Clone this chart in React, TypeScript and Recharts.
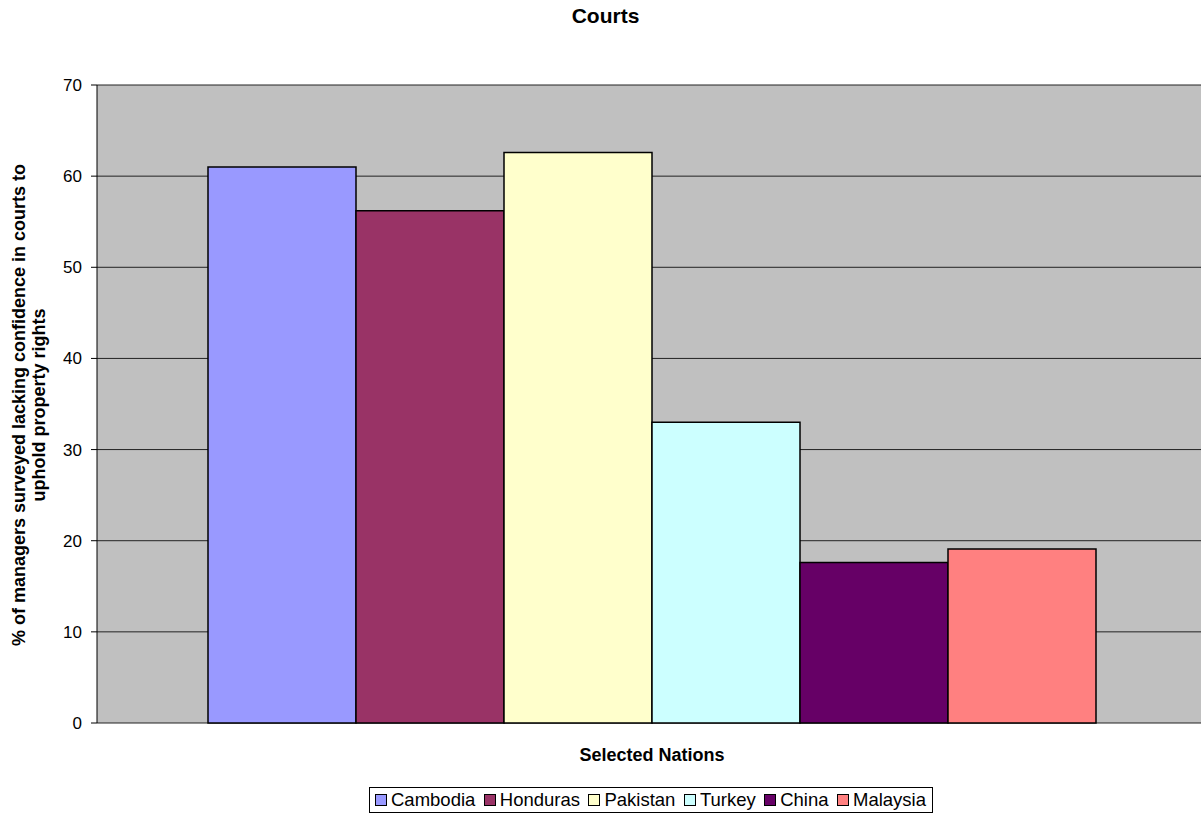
import { BarChart, Bar, XAxis, YAxis, CartesianGrid } from 'recharts';

const NATIONS = ['Cambodia', 'Honduras', 'Pakistan', 'Turkey', 'China', 'Malaysia'];
const VALUES = [61.0, 56.2, 62.6, 33.0, 17.6, 19.1];
const COLORS = ['#9999FF', '#993366', '#FFFFCC', '#CCFFFF', '#660066', '#FF8080'];
const Y_TICKS = [0, 10, 20, 30, 40, 50, 60, 70];

const FONT = '"Liberation Sans", Arial, sans-serif';

const row: Record<string, string | number> = { name: 'Courts' };
NATIONS.forEach((n, i) => { row[n] = VALUES[i]; });
const data = [row];

function LegendBox() {
  return (
    <div style={{
      position: 'absolute', left: 369, top: 787, width: 564, display: 'flex', alignItems: 'center',
      justifyContent: 'space-between', border: '1px solid #000', background: '#fff', padding: '0 6px 0 5px',
      fontFamily: FONT, fontSize: 18.5, color: '#000', height: 26, boxSizing: 'border-box', whiteSpace: 'nowrap',
    }}>
      {NATIONS.map((n, i) => (
        <span key={n} style={{ display: 'inline-flex', alignItems: 'center' }}>
          <span style={{ width: 10, height: 10, background: COLORS[i], border: '1.5px solid #000', marginRight: 4, display: 'inline-block' }} />
          {n}
        </span>
      ))}
    </div>
  );
}

export default function App() {
  return (
    <div style={{ position: 'absolute', left: 0, top: 0, width: 1201, height: 815, background: '#fff', overflow: 'hidden', fontFamily: FONT }}>
      <div style={{ position: 'absolute', left: 0, width: 1211, top: 4, textAlign: 'center', fontWeight: 'bold', fontSize: 21 }}>Courts</div>
      <BarChart width={1201} height={815} data={data} margin={{ top: 85, right: -6, left: 0, bottom: 92 }} barGap={0}>
        <CartesianGrid vertical={false} fill="#C0C0C0" stroke="#222" fillOpacity={1} />
        <XAxis dataKey="name" tick={false} tickLine={false} height={0} stroke="#808080" />
        <YAxis domain={[0, 70]} ticks={Y_TICKS} width={97} tickSize={6} tickMargin={9} stroke="#000"
          tick={{ fill: '#000', fontSize: 17, fontFamily: FONT }} interval={0} />
        {NATIONS.map((n, i) => (
          <Bar key={n} dataKey={n} fill={COLORS[i]} stroke="#000" strokeWidth={1.5} barSize={148} isAnimationActive={false} />
        ))}
      </BarChart>
      <div style={{ position: 'absolute', left: 97, width: 1110, top: 745, textAlign: 'center', fontWeight: 'bold', fontSize: 18 }}>Selected Nations</div>
      <div style={{
        position: 'absolute', left: 29, top: 406, width: 700, marginLeft: -350, marginTop: -21,
        transform: 'rotate(-90deg)', textAlign: 'center', fontWeight: 'bold', fontSize: 18, lineHeight: '20px',
      }}>
        % of managers surveyed lacking confidence in courts to<br />uphold property rights
      </div>
      <LegendBox />
    </div>
  );
}
